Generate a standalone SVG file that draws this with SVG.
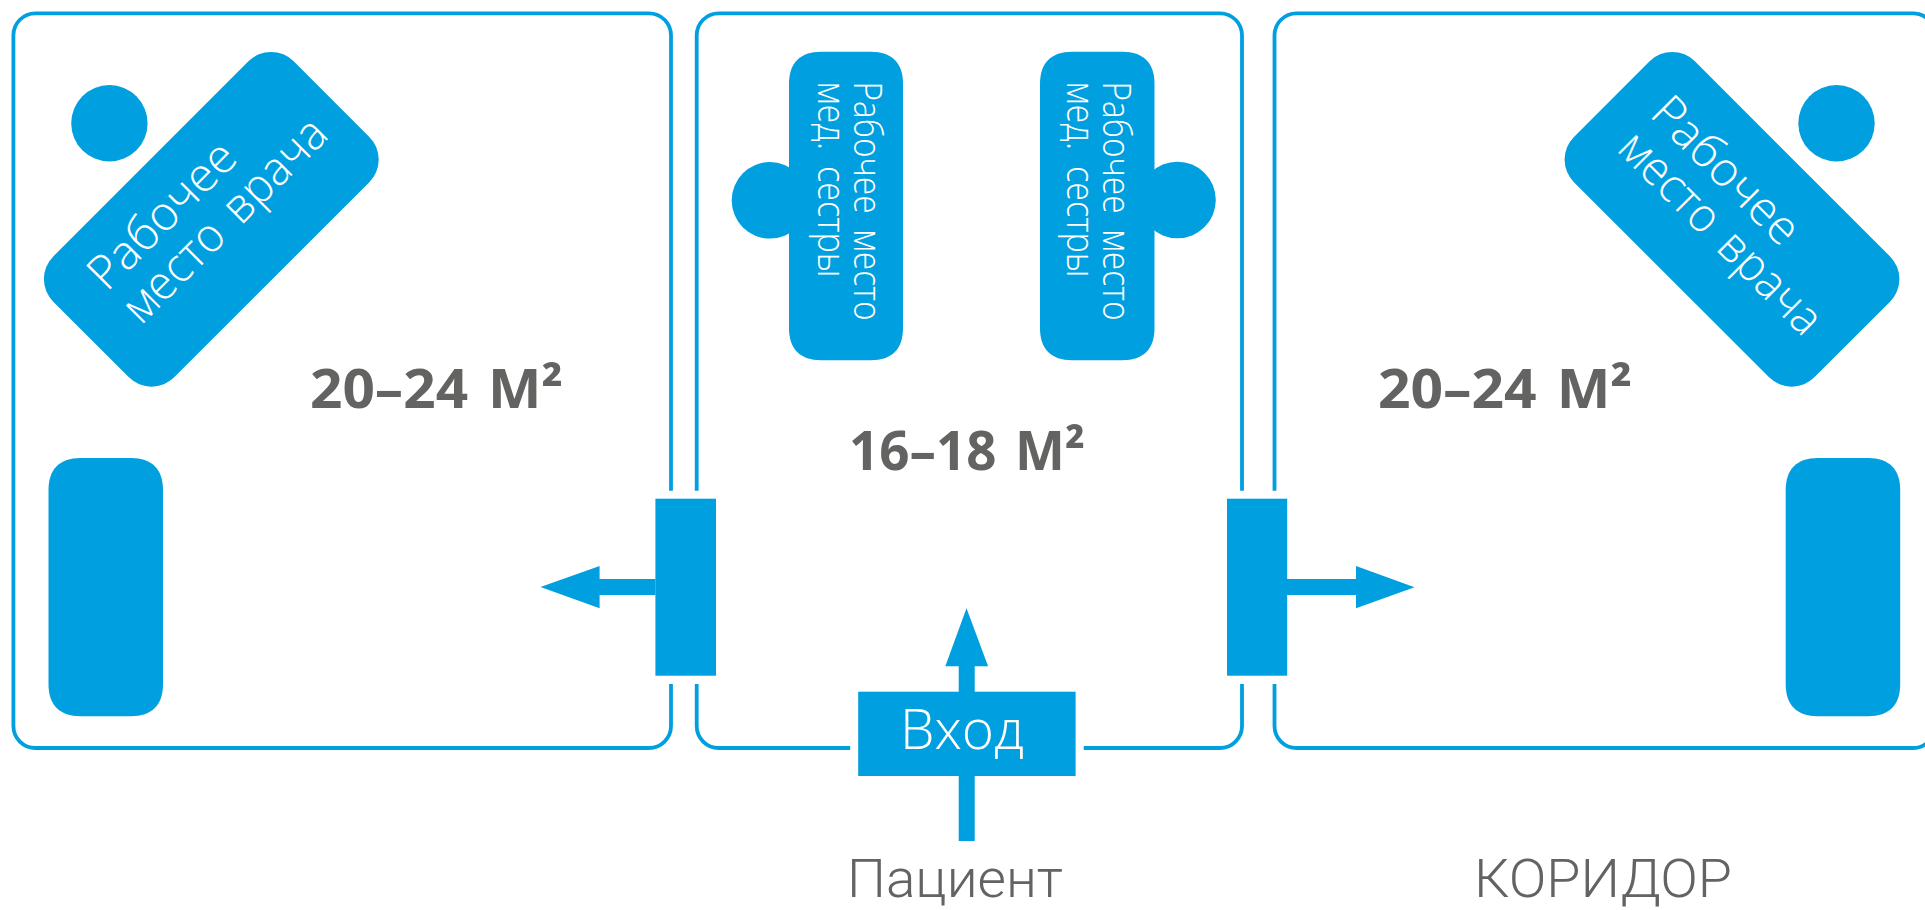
<svg xmlns="http://www.w3.org/2000/svg" width="1925" height="910" viewBox="0 0 1925 910">
<style>
.wall{fill:none;stroke:#009fdf;stroke-width:3.8}
.fill{fill:#009fdf}
text{font-family:"Open Sans","Noto Sans","Liberation Sans",sans-serif}
.area{font-weight:700;font-size:54px;fill:#636362;word-spacing:5px}
.lbl{font-family:Roboto,"Open Sans",sans-serif;font-weight:300;font-size:53px;fill:#636362}
.desk{font-weight:300;font-size:47.5px;fill:#fff;word-spacing:6px}
.nurse{font-weight:300;font-size:38px;fill:#fff;word-spacing:8px}
.entry{font-weight:300;font-size:56px;fill:#fff}
</style>
<rect width="1925" height="910" fill="#fff"/>
<g id="room-left">
<path class="wall" d="M671 490.7V35.3a22 22 0 0 0-22-22H35.4a22 22 0 0 0-22 22V726a22 22 0 0 0 22 22H649a22 22 0 0 0 22-22V684"/>
<text class="area" x="310" y="408" textLength="253" lengthAdjust="spacingAndGlyphs">20–24 М²</text>
</g>
<g id="room-center">
<path class="wall" d="M696.7 490.7V35.3a22 22 0 0 1 22-22H1220a22 22 0 0 1 22 22V490.7"/>
<path class="wall" d="M696.7 684V726a22 22 0 0 0 22 22H850.2M1083.7 748H1220a22 22 0 0 0 22-22V684"/>
<text class="area" x="849" y="470" textLength="236" lengthAdjust="spacingAndGlyphs">16–18 М²</text>
</g>
<g id="room-right">
<path class="wall" d="M1274.5 490.7V35.3a22 22 0 0 1 22-22H1913a22 22 0 0 1 22 22V726a22 22 0 0 1-22 22H1296.5a22 22 0 0 1-22-22V684"/>
<text class="area" x="1378" y="408" textLength="254" lengthAdjust="spacingAndGlyphs">20–24 М²</text>
</g>
<g id="doctor-left">
<circle class="fill" cx="109.4" cy="123.3" r="38.2"/>
<rect class="fill" x="41.3" y="133.8" width="340" height="171" rx="32" transform="rotate(-45 211.3 219.3)"/>
<text class="desk" transform="translate(106.8 292.8) rotate(-45)">Рабочее</text>
<text class="desk" transform="translate(141 326) rotate(-45)" textLength="268" lengthAdjust="spacingAndGlyphs">место врача</text>
</g>
<g id="doctor-right">
<circle class="fill" cx="1836.5" cy="123.3" r="38.2"/>
<rect class="fill" x="1562" y="133.8" width="340" height="171" rx="32" transform="rotate(45 1732 219.3)"/>
<text class="desk" transform="translate(1648.3 115.3) rotate(45)">Рабочее</text>
<text class="desk" transform="translate(1615.5 150) rotate(45)" textLength="266" lengthAdjust="spacingAndGlyphs">место врача</text>
</g>
<g id="nurse-left">
<circle class="fill" cx="770" cy="200.3" r="38.3"/>
<path class="fill" d="M789 83.7c0-20.8 11.2-32 32-32h50c20.8 0 32 11.2 32 32v244.6c0 20.8-11.2 32-32 32h-50c-20.8 0-32-11.2-32-32z"/>
<text class="nurse" transform="translate(854 81.5) rotate(90)" textLength="239" lengthAdjust="spacingAndGlyphs">Рабочее место</text>
<text class="nurse" transform="translate(817.8 81.5) rotate(90)" textLength="196" lengthAdjust="spacingAndGlyphs">мед. сестры</text>
</g>
<g id="nurse-right">
<circle class="fill" cx="1177.5" cy="200" r="38.3"/>
<path class="fill" d="M1040 83.7c0-20.8 11.2-32 32-32h50.5c20.8 0 32 11.2 32 32v244.6c0 20.8-11.2 32-32 32h-50.5c-20.8 0-32-11.2-32-32z"/>
<text class="nurse" transform="translate(1102.9 81.5) rotate(90)" textLength="239" lengthAdjust="spacingAndGlyphs">Рабочее место</text>
<text class="nurse" transform="translate(1066.5 81.5) rotate(90)" textLength="196" lengthAdjust="spacingAndGlyphs">мед. сестры</text>
</g>
<g id="bed-left"><path class="fill" d="M48.5 490c0-20.8 11.2-32 32-32h50.5c20.8 0 32 11.2 32 32v194.3c0 20.8-11.2 32-32 32h-50.5c-20.8 0-32-11.2-32-32z"/></g>
<g id="bed-right"><path class="fill" d="M1785.7 490c0-20.8 11.2-32 32-32h50.5c20.8 0 32 11.2 32 32v194.3c0 20.8-11.2 32-32 32h-50.5c-20.8 0-32-11.2-32-32z"/></g>
<g id="connectors">
<polygon class="fill" points="655.5,579 599.6,579 599.6,566 540.5,587 599.6,608.3 599.6,595 655.5,595"/>
<polygon class="fill" points="1287,579 1356,579 1356,566 1414.5,587.3 1356,608.3 1356,595 1287,595"/>
<polygon class="fill" points="958.7,841 958.7,666.3 945.3,666.3 966.5,608.3 988.1,666.3 974.7,666.3 974.7,841"/>
</g>
<g id="door-left"><rect class="fill" x="655.4" y="498.7" width="60.6" height="177"/></g>
<g id="door-right"><rect class="fill" x="1227" y="498.7" width="60.2" height="177"/></g>
<g id="entrance">
<rect class="fill" x="858.2" y="691.7" width="217.4" height="84.3"/>
<text class="entry" x="900" y="749.3" textLength="124" lengthAdjust="spacingAndGlyphs">Вход</text>
</g>
<g id="label-patient"><text class="lbl" x="847" y="896.8" textLength="216" lengthAdjust="spacingAndGlyphs">Пациент</text></g>
<g id="label-corridor"><text class="lbl" x="1474" y="896.8" textLength="258" lengthAdjust="spacingAndGlyphs">КОРИДОР</text></g>
</svg>
